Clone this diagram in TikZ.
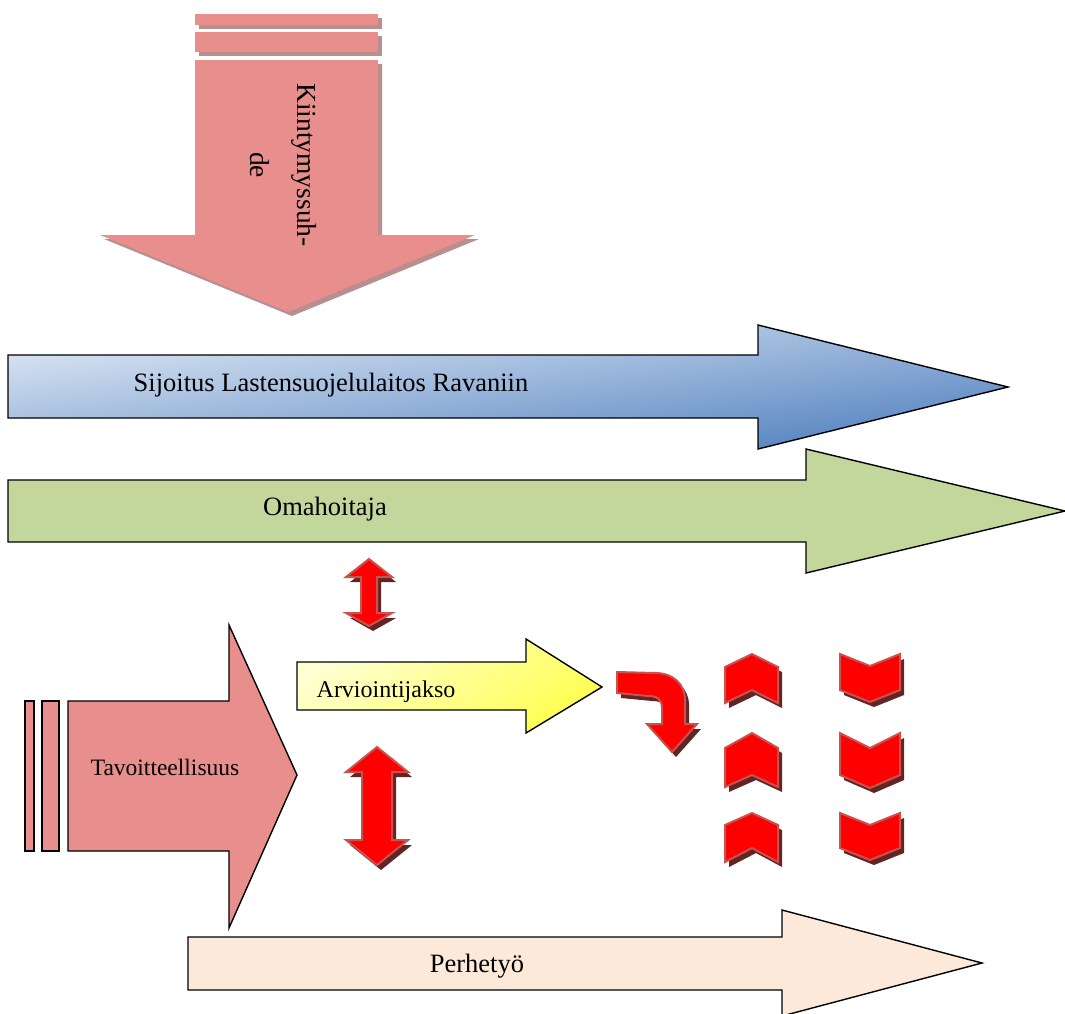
\documentclass[tikz,border=0pt]{standalone}
\usepackage{fontspec}
\setmainfont{Liberation Serif}
\usetikzlibrary{shadows}
\definecolor{pinkfill}{RGB}{232,143,141}
\definecolor{pinkshadow}{RGB}{184,142,142}
\definecolor{bluelight}{RGB}{224,233,245}
\definecolor{bluedark}{RGB}{80,128,191}
\definecolor{greenfill}{RGB}{195,214,155}
\definecolor{peachfill}{RGB}{253,233,217}
\definecolor{yellowlight}{RGB}{255,255,212}
\definecolor{yellowdark}{RGB}{255,255,80}
\definecolor{redfill}{RGB}{255,0,0}
\definecolor{redline}{RGB}{200,82,80}
\definecolor{redshadow}{RGB}{99,37,35}
\begin{document}
\begin{tikzpicture}[x=1pt,y=-1pt,
  outlined/.style={draw=black,line width=1.4pt,line join=miter},
  pinkshadowed/.style={fill=pinkfill,drop shadow={shadow xshift=4pt,shadow yshift=-4pt,fill=pinkshadow,opacity=1}},
  redshape/.style={fill=redfill,draw=redline,line width=2pt,line join=miter,drop shadow={shadow xshift=4pt,shadow yshift=-5pt,fill=redshadow,opacity=1}},
  lbl/.style={font=\fontsize{26.5}{30}\selectfont,inner sep=0pt,anchor=base},
  smalllbl/.style={font=\fontsize{24}{28}\selectfont,inner sep=0pt,anchor=base}
]
\useasboundingbox (0,0) rectangle (1065,1013);

% top down arrow
\path[pinkshadowed] (195,14) rectangle (378,25);
\path[pinkshadowed] (195,32) rectangle (378,52);
\path[pinkshadowed] (195,60) -- (378,60) -- (378,235) -- (475,235) -- (288,312) -- (100,235) -- (195,235) -- cycle;
\node[rotate=-90,align=center,inner sep=0pt,font=\fontsize{27.5}{47}\selectfont] (kiint) at (283,165) {Kiintymyssuh-\\de};

% blue arrow
\path[outlined,top color=bluelight,bottom color=bluedark,shading angle=7]
  (8,355) -- (758,355) -- (758,325) -- (1008,387) -- (758,449) -- (758,418) -- (8,418) -- cycle;
\node[lbl] (sijoitus) at (331,391) {Sijoitus Lastensuojelulaitos Ravaniin};

% green arrow
\path[outlined,fill=greenfill]
  (8,480) -- (806,480) -- (806,449) -- (1065,511) -- (806,573) -- (806,542) -- (8,542) -- cycle;
\node[lbl] (oma) at (325,515) {Omahoitaja};

% Tavoitteellisuus arrow
\path[outlined,fill=pinkfill] (25,701) rectangle (34,851);
\path[outlined,fill=pinkfill] (42,701) rectangle (59,851);
\path[outlined,fill=pinkfill]
  (68,701) -- (229,701) -- (229,625) -- (297,775) -- (229,928) -- (229,851) -- (68,851) -- cycle;
\node[smalllbl,font=\fontsize{23.5}{28}\selectfont] (tavo) at (165,775) {Tavoitteellisuus};

% Arviointijakso arrow
\path[outlined,top color=yellowlight,bottom color=yellowdark,shading angle=35]
  (297,662) -- (526,662) -- (526,639) -- (602,687) -- (526,733) -- (526,710) -- (297,710) -- cycle;
\node[smalllbl] (arvio) at (386,697) {Arviointijakso};

% Perhetyo arrow
\path[outlined,fill=peachfill]
  (188,937) -- (782,937) -- (782,910) -- (982,963) -- (782,1016) -- (782,990) -- (188,990) -- cycle;
\node[lbl] (perhe) at (477,972) {Perhetyö};

% double arrows
\path[redshape] (369,559) -- (392,577) -- (377,577) -- (377,613) -- (392,613) -- (369,626)
  -- (346,613) -- (361,613) -- (361,577) -- (346,577) -- cycle;
\path[redshape] (377,747) -- (408,772) -- (392,772) -- (392,840) -- (408,840) -- (377,865)
  -- (346,840) -- (362,840) -- (362,772) -- (346,772) -- cycle;

% curved arrow
\path[redshape] (617,672) -- (655,673) .. controls (673,673) and (685,684) .. (685,700)
  -- (685,724) -- (697,724) -- (672,752) -- (647,724) -- (662,724) -- (662,708)
  .. controls (662,700) and (658,696) .. (648,696) -- (617,693) -- cycle;

% up chevrons
\path[redshape] (752,654) -- (778,667) -- (778,703) -- (752,690) -- (725,703) -- (725,667) -- cycle;
\path[redshape] (752,733) -- (778,748) -- (778,787) -- (752,775) -- (725,787) -- (725,748) -- cycle;
\path[redshape] (752,813) -- (778,825) -- (778,862) -- (752,848) -- (725,862) -- (725,825) -- cycle;
% down chevrons
\path[redshape] (840,654) -- (870,666) -- (900,654) -- (900,690) -- (870,702) -- (840,690) -- cycle;
\path[redshape] (840,733) -- (870,748) -- (900,733) -- (900,775) -- (870,788) -- (840,775) -- cycle;
\path[redshape] (840,813) -- (870,825) -- (900,813) -- (900,848) -- (870,860) -- (840,848) -- cycle;
\end{tikzpicture}
\end{document}
